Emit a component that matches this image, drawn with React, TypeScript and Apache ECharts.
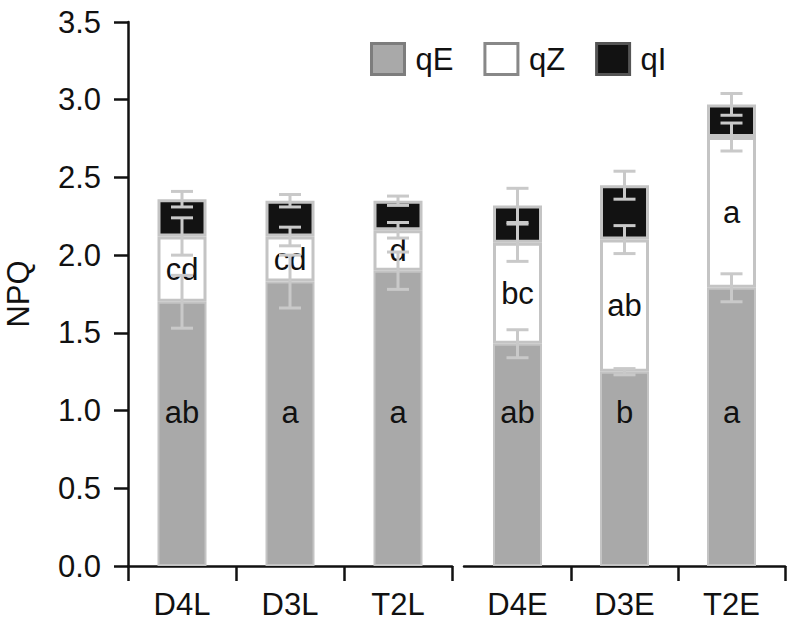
import React, { useEffect, useRef } from "react";
import * as echarts from "echarts";

const categories = ["D4L", "D3L", "T2L", "D4E", "D3E", "T2E"];
const qE = [1.70, 1.83, 1.90, 1.43, 1.25, 1.79];
const qZ = [0.42, 0.29, 0.26, 0.65, 0.85, 0.97];
const qI = [0.24, 0.23, 0.19, 0.24, 0.35, 0.21];
const qEErr = [0.17, 0.17, 0.12, 0.09, 0.02, 0.09];
const qZErr = [0.12, 0.06, 0.05, 0.12, 0.09, 0.09];
const qIErr = [0.05, 0.04, 0.03, 0.11, 0.09, 0.07];
const qELetters = ["ab", "a", "a", "ab", "b", "a"];
const qZLetters = ["cd", "cd", "d", "bc", "ab", "a"];
const yMin = 0;
const yMax = 3.5;
const yInterval = 0.5;

const FONT = "Liberation Sans, Arial, Helvetica, sans-serif";
const FS = 31;
const ERR_COLOR = "#c9c9c9";
const BAR_BORDER = "#c4c4c4";

export default function App() {
  const ref = useRef<HTMLDivElement>(null);
  useEffect(() => {
    if (!ref.current) return;
    const chart = echarts.init(ref.current, undefined, { renderer: "svg" });

    const groups = [
      [0, 1, 2],
      [3, 4, 5],
    ];

    const errRender = (params: any, api: any) => {
      const x = api.value(0);
      const top = api.value(1);
      const err = api.value(2);
      const pHi = api.coord([x, top + err]);
      const pLo = api.coord([x, top - err]);
      const cx = pHi[0];
      const hw = 11;
      const style = { stroke: ERR_COLOR, lineWidth: 3 };
      return {
        type: "group",
        children: [
          { type: "line", shape: { x1: cx, y1: pHi[1], x2: cx, y2: pLo[1] }, style },
          { type: "line", shape: { x1: cx - hw, y1: pHi[1], x2: cx + hw, y2: pHi[1] }, style },
          { type: "line", shape: { x1: cx - hw, y1: pLo[1], x2: cx + hw, y2: pLo[1] }, style },
        ],
      };
    };

    const series: any[] = [];
    groups.forEach((idx, g) => {
      const stack = g === 0 ? "L" : "E";
      series.push({
        name: "qE",
        type: "bar",
        stack,
        xAxisIndex: g,
        yAxisIndex: g,
        barWidth: 49,
        data: idx.map((i) => qE[i]),
        itemStyle: { color: "#a9a9a9", borderColor: BAR_BORDER, borderWidth: 2 },
        label: {
          show: true,
          position: "insideBottom",
          distance: 138,
          fontSize: FS,
          fontFamily: FONT,
          color: "#111",
          formatter: (p: any) => qELetters[idx[p.dataIndex]],
        },
      });
      series.push({
        name: "qZ",
        type: "bar",
        stack,
        xAxisIndex: g,
        yAxisIndex: g,
        barWidth: 49,
        data: idx.map((i) => qZ[i]),
        itemStyle: { color: "#ffffff", borderColor: BAR_BORDER, borderWidth: 3 },
        label: {
          show: true,
          position: "inside",
          fontSize: FS,
          fontFamily: FONT,
          color: "#111",
          formatter: (p: any) => qZLetters[idx[p.dataIndex]],
        },
      });
      series.push({
        name: "qI",
        type: "bar",
        stack,
        xAxisIndex: g,
        yAxisIndex: g,
        barWidth: 49,
        data: idx.map((i) => qI[i]),
        itemStyle: { color: "#121212", borderColor: BAR_BORDER, borderWidth: 3 },
      });
      const errData: any[] = [];
      idx.forEach((i, k) => {
        const t1 = qE[i];
        const t2 = t1 + qZ[i];
        const t3 = t2 + qI[i];
        errData.push([k, t1, qEErr[i]]);
        errData.push([k, t2, qZErr[i]]);
        errData.push([k, t3, qIErr[i]]);
      });
      series.push({
        name: "err" + g,
        type: "custom",
        xAxisIndex: g,
        yAxisIndex: g,
        renderItem: errRender,
        encode: { x: 0, y: 1 },
        data: errData,
        z: 5,
        silent: true,
      });
    });

    const xAxisCommon = {
      type: "category",
      boundaryGap: true,
      axisLine: { show: true, lineStyle: { color: "#111", width: 2.5 } },
      axisTick: { show: true, inside: false, length: 15, lineStyle: { color: "#111", width: 2.5 } },
      axisLabel: { fontSize: FS, fontFamily: FONT, color: "#111", margin: 23 },
      splitLine: { show: false },
    };

    const option: any = {
      animation: false,
      backgroundColor: "#ffffff",
      textStyle: { fontFamily: FONT },
      legend: {
        data: [
          { name: "qE", itemStyle: { color: "#a9a9a9", borderColor: "#7d7d7d", borderWidth: 3 } },
          { name: "qZ", itemStyle: { color: "#ffffff", borderColor: "#888888", borderWidth: 3 } },
          { name: "qI", itemStyle: { color: "#121212", borderColor: "#555555", borderWidth: 3 } },
        ],
        left: 365,
        top: 37,
        icon: "rect",
        itemWidth: 33,
        itemHeight: 31,
        itemGap: 30,
        selectedMode: false,
        textStyle: { fontSize: FS, fontFamily: FONT, color: "#111", padding: [0, 0, 0, 6] },
      },
      grid: [
        { left: 128, top: 22, width: 324, height: 544 },
        { left: 464, top: 22, width: 321, height: 544 },
      ],
      xAxis: [
        { ...xAxisCommon, gridIndex: 0, data: groups[0].map((i) => categories[i]) },
        {
          ...xAxisCommon,
          gridIndex: 1,
          data: groups[1].map((i) => categories[i]),
          axisTick: { ...xAxisCommon.axisTick, interval: (i: number) => i !== 0 },
        },
      ],
      yAxis: [
        {
          type: "value",
          gridIndex: 0,
          min: yMin,
          max: yMax,
          interval: yInterval,
          name: "NPQ",
          nameLocation: "middle",
          nameGap: 94,
          nameTextStyle: { fontSize: FS, fontFamily: FONT, color: "#111" },
          axisLine: { show: true, lineStyle: { color: "#111", width: 2.5 } },
          axisTick: { show: true, length: 14, lineStyle: { color: "#111", width: 2.5 } },
          axisLabel: {
            fontSize: FS,
            fontFamily: FONT,
            color: "#111",
            margin: 27,
            formatter: (v: number) => v.toFixed(1),
          },
          splitLine: { show: false },
        },
        {
          type: "value",
          gridIndex: 1,
          min: yMin,
          max: yMax,
          interval: yInterval,
          show: false,
          splitLine: { show: false },
        },
      ],
      series,
    };

    chart.setOption(option);
    return () => chart.dispose();
  }, []);

  return (
    <div
      ref={ref}
      style={{ position: "fixed", left: 0, top: 0, width: 787, height: 624, background: "#fff" }}
    />
  );
}
